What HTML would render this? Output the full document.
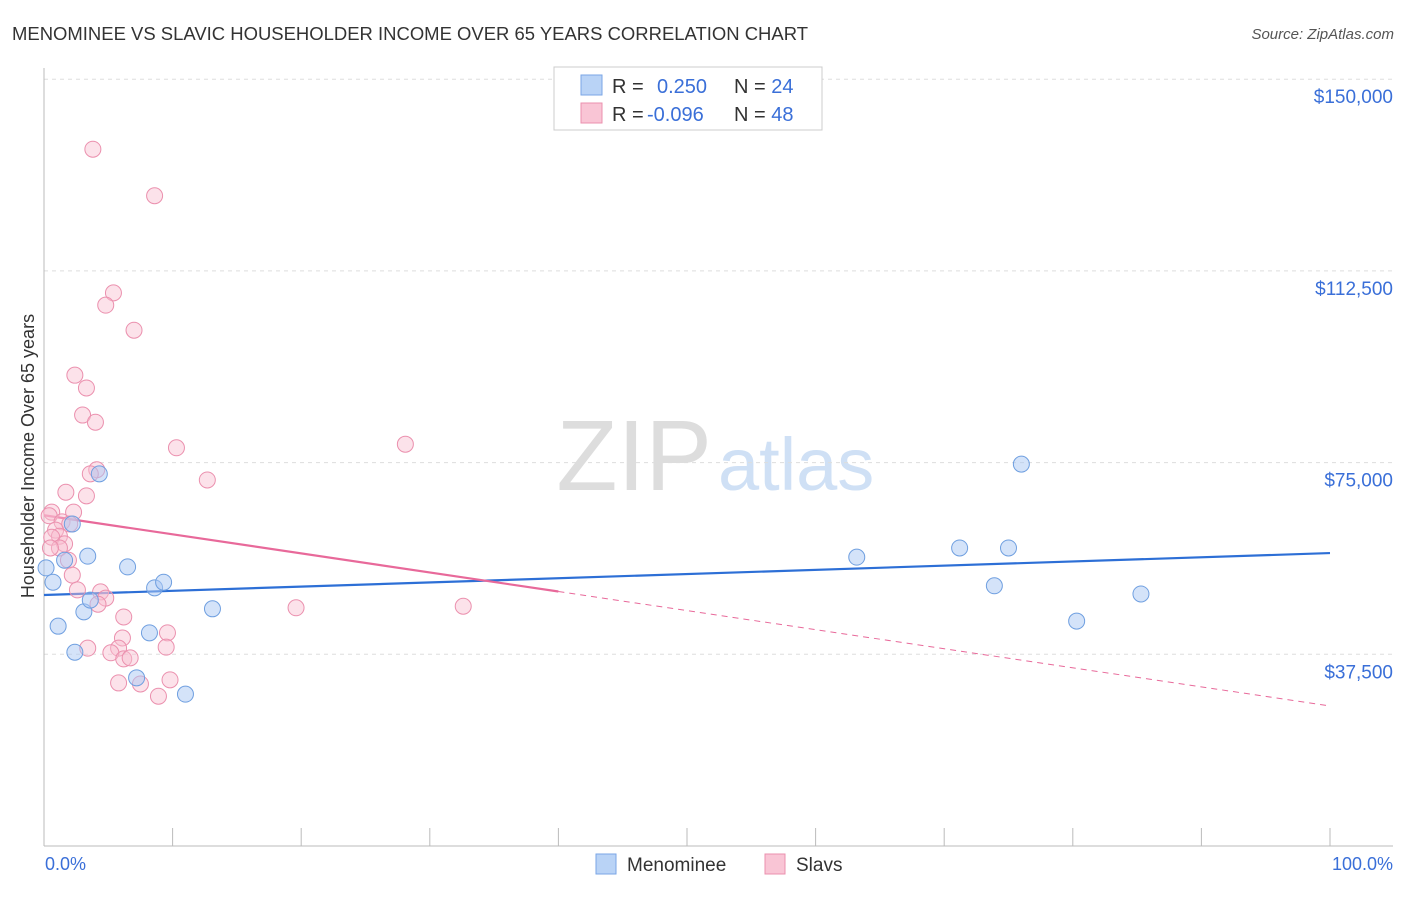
<!DOCTYPE html>
<html><head><meta charset="utf-8"><style>
body{margin:0;background:#fff;font-family:"Liberation Sans",sans-serif;}
svg text{font-family:"Liberation Sans",sans-serif;}
</style></head><body>
<svg id="c" width="1406" height="892">
<text x="12" y="40" font-size="18" fill="#333" textLength="796" lengthAdjust="spacingAndGlyphs">MENOMINEE VS SLAVIC HOUSEHOLDER INCOME OVER 65 YEARS CORRELATION CHART</text>
<text x="1394" y="39" font-size="15" fill="#555" font-style="italic" text-anchor="end">Source: ZipAtlas.com</text>
<text x="712" y="490" font-size="100" fill="#ddd" text-anchor="end" font-family="Liberation Serif">ZIP</text>
<text x="718" y="490" font-size="74" fill="#cfe0f5">atlas</text>
<text transform="translate(34,456) rotate(-90)" font-size="18" fill="#333" text-anchor="middle">Householder Income Over 65 years</text>
<g id="grid"></g><g id="trend"></g><g id="pts"></g>
<rect x="554" y="67" width="268" height="63" fill="#fff" stroke="#ccc"/>
<rect x="581" y="75" width="21" height="20" fill="#b9d3f6" stroke="#7aa6e6"/>
<rect x="581" y="103" width="21" height="20" fill="#f9c5d5" stroke="#eb90ae"/>
<text x="612" y="93" font-size="20" fill="#333">R = <tspan x="657" fill="#3a6fd8">0.250</tspan><tspan x="734" fill="#333">N = </tspan><tspan fill="#3a6fd8">24</tspan></text>
<text x="612" y="121" font-size="20" fill="#333">R = <tspan x="647" fill="#3a6fd8">-0.096</tspan><tspan x="734" fill="#333">N = </tspan><tspan fill="#3a6fd8">48</tspan></text>
<text x="45" y="870" font-size="18" fill="#3a6fd8">0.0%</text>
<text x="1393" y="870" font-size="18" fill="#3a6fd8" text-anchor="end">100.0%</text>
<rect x="596" y="854" width="20" height="20" fill="#b9d3f6" stroke="#7aa6e6"/>
<text x="627" y="871" font-size="19" fill="#333">Menominee</text>
<rect x="765" y="854" width="20" height="20" fill="#f9c5d5" stroke="#eb90ae"/>
<text x="796" y="871" font-size="19" fill="#333">Slavs</text>
</svg>
<script>
const yTicks=[37.5,75,112.5,150];
const yTickLabels=["$37,500","$75,000","$112,500","$150,000"];
const menX=[0.16,0.7,1.1,1.6,2.2,2.4,3.1,3.4,3.6,4.3,6.5,7.2,8.2,8.6,9.3,11.0,13.1,63.2,71.2,73.9,75.0,76.0,80.3,85.3];
const menY=[54.4,51.6,43.0,55.9,63.0,37.9,45.8,56.7,48.1,72.8,54.6,32.9,41.7,50.5,51.6,29.7,46.4,56.5,58.3,50.9,58.3,74.7,44.0,49.3];
const slaX=[3.8,8.6,5.4,4.8,7.0,2.4,3.3,3.0,4.0,10.3,28.1,12.7,4.1,3.6,1.7,3.3,0.6,2.3,0.4,1.4,2.0,0.9,1.2,0.6,1.6,1.2,1.9,2.2,2.6,4.4,4.8,4.2,19.6,32.6,6.2,9.6,6.1,5.8,3.4,9.5,5.2,6.2,6.7,5.8,7.5,9.8,8.9,0.5];
const slaY=[136.3,127.2,108.2,105.8,100.9,92.1,89.6,84.3,82.9,77.9,78.6,71.6,73.6,72.8,69.2,68.5,65.3,65.3,64.6,63.4,63.0,61.8,60.6,60.4,59.1,58.3,55.9,53.0,50.1,49.7,48.5,47.3,46.6,46.9,44.8,41.7,40.7,38.7,38.7,38.9,37.8,36.6,36.8,31.9,31.7,32.5,29.3,58.3];
const menTrend=[49.1,57.3];
const slaTrend=[64.7,27.4];
const slaSolidEnd=40;
const NS="http://www.w3.org/2000/svg";
const X=v=>44+v*12.86, Y=v=>846-v*191.7/37.5;
function mk(t,a,p){const e=document.createElementNS(NS,t);for(const k in a)e.setAttribute(k,a[k]);p.appendChild(e);return e;}
const g=document.getElementById('grid');
yTicks.forEach((t,i)=>{
 const l=mk('line',{x1:44,x2:1393,y1:Y(t),y2:Y(t),stroke:'#ddd','stroke-dasharray':'4,4'},g);
 
 
 const tx=mk('text',{x:1393,y:Y(t)+24,'font-size':19,fill:'#3a6fd8','text-anchor':'end'},g);
 tx.textContent=yTickLabels[i];
 
 
});
const ax=mk('line',{x1:44,x2:44,y1:68,y2:846,stroke:'#bbb'},g);


const bx=mk('line',{x1:44,x2:1393,y1:846,y2:846,stroke:'#bbb'},g);


for(let i=1;i<=10;i++){const t=mk('line',{x1:X(i*10),x2:X(i*10),y1:828,y2:846,stroke:'#bbb'},g);
 
 }
const tr=document.getElementById('trend');
const pts=document.getElementById('pts');
slaX.forEach((x,i)=>{const c=mk('circle',{cx:X(x),cy:Y(slaY[i]),r:8,fill:'rgba(249,190,208,0.45)',stroke:'#eb90ae','stroke-width':1},pts);
 
 });
menX.forEach((x,i)=>{const c=mk('circle',{cx:X(x),cy:Y(menY[i]),r:8,fill:'rgba(170,200,244,0.5)',stroke:'#6f9fe0','stroke-width':1},pts);
 
 });
const sy=v=>slaTrend[0]+(slaTrend[1]-slaTrend[0])*v/100;
const l1=mk('line',{x1:X(0),y1:Y(menTrend[0]),x2:X(100),y2:Y(menTrend[1]),stroke:'#2d6fd6','stroke-width':2.2},tr);


const l2=mk('line',{x1:X(0),y1:Y(sy(0)),x2:X(slaSolidEnd),y2:Y(sy(slaSolidEnd)),stroke:'#e8699a','stroke-width':2.2},tr);


const l3=mk('line',{x1:X(slaSolidEnd),y1:Y(sy(slaSolidEnd)),x2:X(100),y2:Y(sy(100)),stroke:'#e8699a','stroke-width':1,'stroke-dasharray':'6,5'},tr);


</script>
</body></html>
